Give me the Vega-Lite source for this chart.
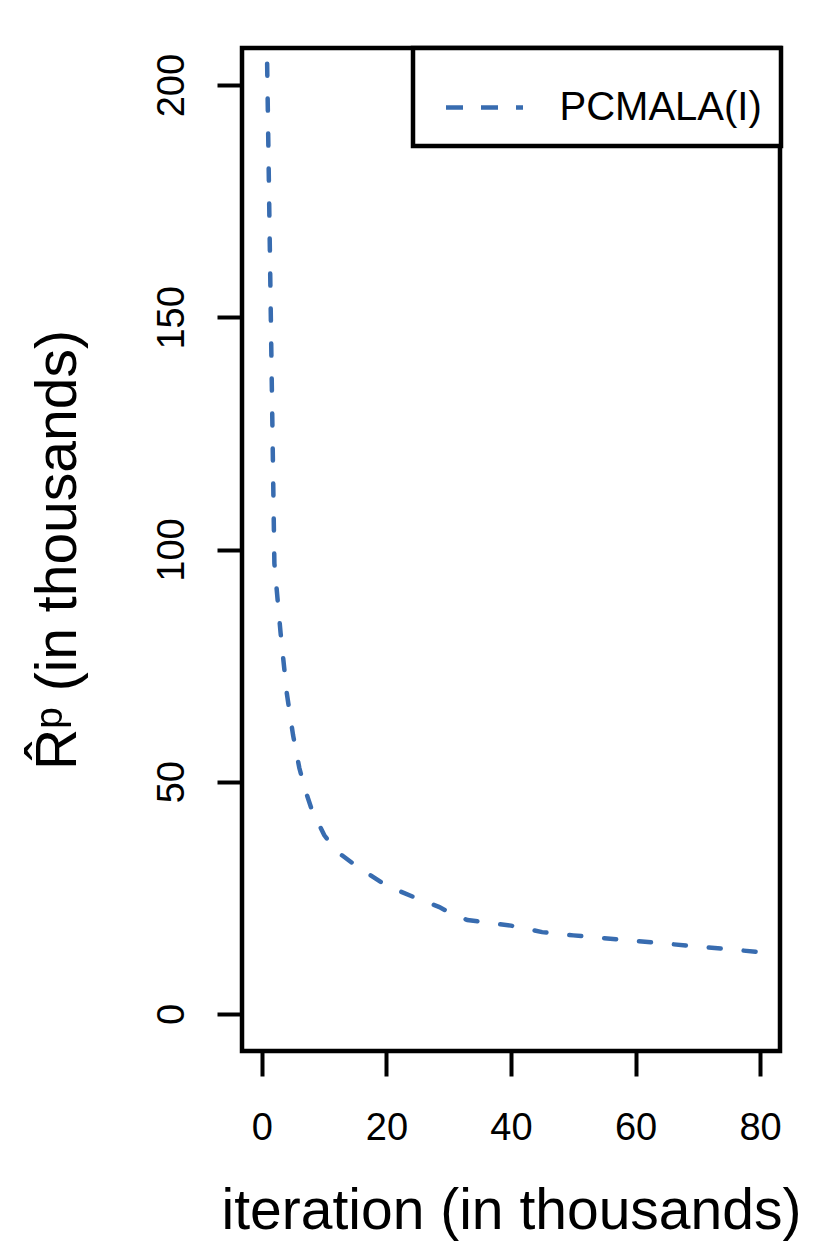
{
  "$schema": "https://vega.github.io/schema/vega-lite/v6.json",
  "autosize": {"type": "none"},
  "padding": {"left": 242, "top": 48, "right": 50, "bottom": 195},
  "width": 538,
  "height": 1003,
  "background": "white",
  "data": {
    "values": [
      {"iteration": 0, "R": 280, "series": "PCMALA(I)"},
      {"iteration": 1, "R": 190, "series": "PCMALA(I)"},
      {"iteration": 2, "R": 97, "series": "PCMALA(I)"},
      {"iteration": 3, "R": 82, "series": "PCMALA(I)"},
      {"iteration": 4, "R": 69, "series": "PCMALA(I)"},
      {"iteration": 5, "R": 60, "series": "PCMALA(I)"},
      {"iteration": 6, "R": 53, "series": "PCMALA(I)"},
      {"iteration": 7, "R": 48, "series": "PCMALA(I)"},
      {"iteration": 8, "R": 44, "series": "PCMALA(I)"},
      {"iteration": 10, "R": 38.5, "series": "PCMALA(I)"},
      {"iteration": 12, "R": 35, "series": "PCMALA(I)"},
      {"iteration": 15, "R": 32, "series": "PCMALA(I)"},
      {"iteration": 20, "R": 27.6, "series": "PCMALA(I)"},
      {"iteration": 25, "R": 24.8, "series": "PCMALA(I)"},
      {"iteration": 28.5, "R": 23, "series": "PCMALA(I)"},
      {"iteration": 30.5, "R": 21.5, "series": "PCMALA(I)"},
      {"iteration": 33, "R": 20.2, "series": "PCMALA(I)"},
      {"iteration": 40, "R": 19, "series": "PCMALA(I)"},
      {"iteration": 45, "R": 17.6, "series": "PCMALA(I)"},
      {"iteration": 50, "R": 16.9, "series": "PCMALA(I)"},
      {"iteration": 55, "R": 16.3, "series": "PCMALA(I)"},
      {"iteration": 60, "R": 15.7, "series": "PCMALA(I)"},
      {"iteration": 65, "R": 15.1, "series": "PCMALA(I)"},
      {"iteration": 70, "R": 14.5, "series": "PCMALA(I)"},
      {"iteration": 75, "R": 13.9, "series": "PCMALA(I)"},
      {"iteration": 80, "R": 13.3, "series": "PCMALA(I)"}
    ]
  },
  "mark": {"type": "line", "strokeDash": [12, 23], "strokeCap": "round", "strokeWidth": 4.5, "clip": true},
  "encoding": {
    "x": {
      "field": "iteration", "type": "quantitative",
      "scale": {"domain": [-3.2, 83.2], "nice": false, "zero": false},
      "axis": {
        "values": [0, 20, 40, 60, 80],
        "title": "iteration (in thousands)",
        "labelBaseline": "alphabetic",
        "labelPadding": 63,
        "titleX": 269,
        "titleY": 177,
        "titleAlign": "center",
        "titleBaseline": "alphabetic"
      }
    },
    "y": {
      "field": "R", "type": "quantitative",
      "scale": {"domain": [-8, 208], "nice": false, "zero": false},
      "axis": {
        "values": [0, 50, 100, 150, 200],
        "title": "R̂ᵖ (in thousands)",
        "labelAngle": 270,
        "labelAlign": "center",
        "labelBaseline": "alphabetic",
        "labelPadding": 34,
        "titleAngle": 270,
        "titleX": -167,
        "titleY": 501.5,
        "titleAlign": "center",
        "titleBaseline": "alphabetic"
      }
    },
    "color": {
      "field": "series", "type": "nominal",
      "scale": {"range": ["#386CB0"]},
      "legend": {
        "title": null,
        "orient": "none",
        "legendX": 171,
        "legendY": 0,
        "padding": 18.5,
        "strokeColor": "black",
        "fillColor": "white",
        "symbolType": "stroke",
        "symbolSize": 5929,
        "symbolStrokeWidth": 4.5,
        "symbolDash": [17, 18],
        "symbolOffset": 12,
        "labelOffset": 34,
        "labelLimit": 0,
        "labelFontSize": 40,
        "labelFont": "Liberation Sans",
        "labelColor": "black"
      }
    }
  },
  "config": {
    "view": {"stroke": "black", "strokeWidth": 4.5},
    "legend": {"strokeWidth": 4.5},
    "axis": {
      "domain": false,
      "grid": false,
      "ticks": true,
      "tickColor": "black",
      "tickWidth": 4,
      "tickSize": 25,
      "labelFont": "Liberation Sans",
      "labelFontSize": 38,
      "labelColor": "black",
      "titleFont": "Liberation Sans",
      "titleFontSize": 57,
      "titleFontWeight": "normal",
      "titleColor": "black",
      "labelOverlap": false,
      "labelFlush": false
    }
  }
}
